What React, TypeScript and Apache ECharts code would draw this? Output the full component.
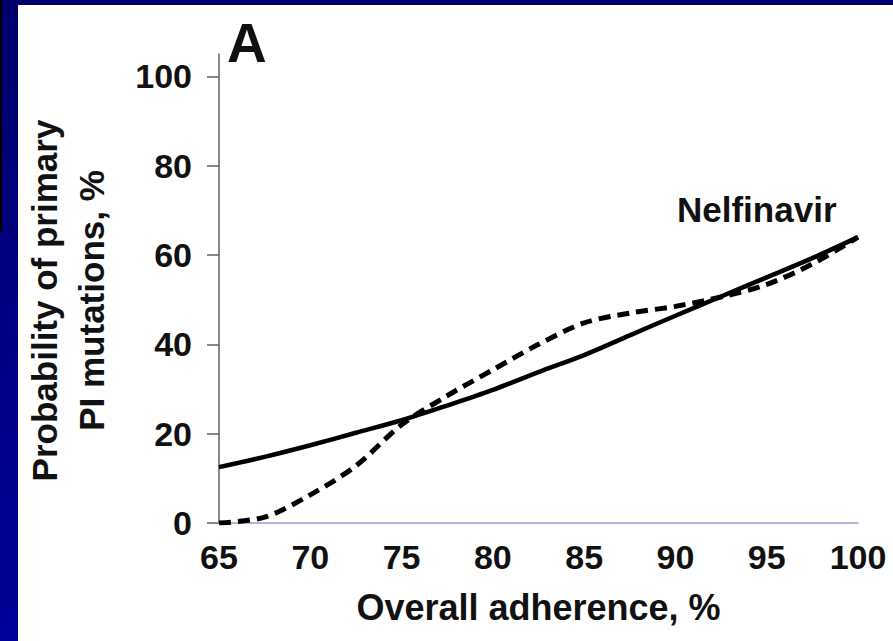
import React, { useEffect, useRef } from "react";
import * as echarts from "echarts";

const adherence = [65, 67.5, 70, 72.5, 75, 77.5, 80, 82.5, 85, 87.5, 90, 92.5, 95, 97.5, 100];
const solidValues = [12.5, 14.8, 17.4, 20.2, 23.0, 26.3, 29.8, 33.8, 37.6, 42.0, 46.4, 50.7, 55.0, 59.3, 64.0];
const dashedValues = [0, 1.3, 6.3, 12.8, 22.0, 28.5, 34.3, 40.0, 44.8, 47.0, 48.5, 50.6, 53.4, 58.0, 64.0];
const yTicks = [0, 20, 40, 60, 80, 100];
const xTicks = [65, 70, 75, 80, 85, 90, 95, 100];
const yAxisTitle = "Probability of primary\nPI mutations, %";
const xAxisTitle = "Overall adherence, %";
const panelLabel = "A";
const drugLabel = "Nelfinavir";

const FONT = '"Liberation Sans", Arial, sans-serif';

export default function App() {
  const ref = useRef<HTMLDivElement>(null);
  useEffect(() => {
    if (!ref.current) return;
    const chart = echarts.init(ref.current, undefined, { renderer: "svg" });
    chart.setOption({
      animation: false,
      backgroundColor: "#ffffff",
      grid: { left: 219, right: 35, top: 54, bottom: 118, containLabel: false },
      xAxis: {
        type: "value",
        min: 65,
        max: 100,
        interval: 5,
        name: xAxisTitle,
        nameLocation: "middle",
        nameGap: 66,
        nameTextStyle: { fontFamily: FONT, fontWeight: "bold", fontSize: 36, color: "#111" },
        axisLine: { show: true, onZero: false, lineStyle: { color: "#9a9acc", width: 1.5 } },
        axisTick: { show: false },
        splitLine: { show: false },
        axisLabel: {
          customValues: xTicks,
          margin: 17,
          fontFamily: FONT,
          fontWeight: "bold",
          fontSize: 34,
          color: "#111",
        },
      },
      yAxis: {
        type: "value",
        min: 0,
        max: 105,
        name: yAxisTitle,
        nameLocation: "middle",
        nameGap: 104,
        nameTextStyle: {
          fontFamily: FONT,
          fontWeight: "bold",
          fontSize: 35,
          lineHeight: 47,
          color: "#111",
          align: "center",
          padding: [0, 24, 0, 0],
        },
        axisLine: { show: true, lineStyle: { color: "#606060", width: 1.5 } },
        axisTick: { show: true, customValues: yTicks, length: 12, lineStyle: { color: "#606060", width: 1.5 } },
        splitLine: { show: false },
        axisLabel: {
          customValues: yTicks,
          margin: 27,
          fontFamily: FONT,
          fontWeight: "bold",
          fontSize: 34,
          color: "#111",
        },
      },
      series: [
        {
          type: "line",
          data: adherence.map((x, i) => [x, solidValues[i]]),
          smooth: 0.3,
          showSymbol: false,
          lineStyle: { color: "#000", width: 4.5 },
          z: 3,
        },
        {
          type: "line",
          data: adherence.map((x, i) => [x, dashedValues[i]]),
          smooth: 0.3,
          showSymbol: false,
          lineStyle: { color: "#000", width: 5, type: [12, 7] },
          z: 4,
        },
      ],
      graphic: [
        { type: "rect", left: 0, top: 0, shape: { width: 893, height: 5 }, style: { fill: "#00006c" }, z: 100 },
        {
          type: "rect",
          left: 0,
          top: 0,
          shape: { width: 18, height: 641 },
          style: {
            fill: new echarts.graphic.LinearGradient(0, 0, 0, 1, [
              { offset: 0, color: "#00006c" },
              { offset: 1, color: "#00009a" },
            ]),
          },
          z: 100,
        },
        { type: "rect", left: 0, top: 0, shape: { width: 2, height: 232 }, style: { fill: "#000000" }, z: 101 },
        {
          type: "text",
          x: 227,
          y: 15,
          style: { text: panelLabel, font: `bold 55px ${FONT}`, fill: "#111", textVerticalAlign: "top" },
          z: 50,
        },
        {
          type: "text",
          x: 677,
          y: 192,
          style: { text: drugLabel, font: `bold 35px ${FONT}`, fill: "#111", textVerticalAlign: "top" },
          z: 50,
        },
      ],
    });
    return () => chart.dispose();
  }, []);
  return (
    <div
      ref={ref}
      style={{ position: "fixed", left: 0, top: 0, width: 893, height: 641, background: "#fff" }}
    />
  );
}
